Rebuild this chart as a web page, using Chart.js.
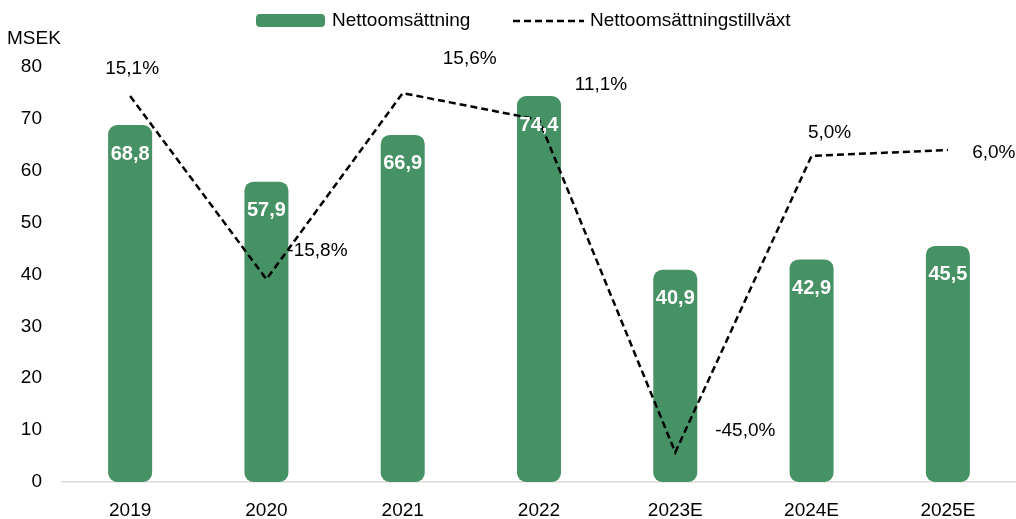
<!DOCTYPE html>
<html>
<head>
<meta charset="utf-8">
<script src="https://cdn.jsdelivr.net/npm/chart.js@4"></script>
<style>
  html, body { margin: 0; padding: 0; background: #fff; }
  #wrap { width: 1016px; height: 519px; position: relative; }
</style>
</head>
<body>
<div id="wrap"><canvas id="c" width="1016" height="519"></canvas></div>
<script>
// ---- Data ----
const categories = ['2019', '2020', '2021', '2022', '2023E', '2024E', '2025E'];
const revenue = [68.8, 57.9, 66.9, 74.4, 40.9, 42.9, 45.5];          // MSEK
const growth = [15.1, -15.8, 15.6, 11.1, -45.0, 5.0, 6.0];            // %
const yTicks = { min: 0, max: 80, step: 10 };
const seriesNames = ['Nettoomsättning', 'Nettoomsättningstillväxt'];
const unitLabel = 'MSEK';

// ---- Styles ----
const GREEN = '#469265';
const FONT = '"Liberation Sans", Arial, sans-serif';
const growthLabelOffsets = [[2, -27], [51, -28], [67, -34], [62, -35], [70, -22], [18, -23], [46, 3]];

const fmt = v => v.toFixed(1).replace('.', ',');

const labelPlugin = {
  id: 'labels',
  afterDatasetsDraw(chart) {
    const ctx = chart.ctx;
    ctx.save();
    // bar value labels
    const barMeta = chart.getDatasetMeta(0);
    ctx.font = 'bold 20px ' + FONT;
    ctx.fillStyle = '#ffffff';
    ctx.textAlign = 'center';
    ctx.textBaseline = 'middle';
    barMeta.data.forEach((el, i) => {
      ctx.fillText(fmt(revenue[i]), el.x, el.y + 29);
    });
    // growth labels
    const lineMeta = chart.getDatasetMeta(1);
    ctx.font = '19px ' + FONT;
    ctx.fillStyle = '#000000';
    lineMeta.data.forEach((el, i) => {
      const o = growthLabelOffsets[i];
      ctx.fillText(fmt(growth[i]) + '%', el.x + o[0], el.y + o[1]);
    });
    ctx.restore();
  },
  afterDraw(chart) {
    const ctx = chart.ctx;
    ctx.save();
    // unit label
    ctx.font = '19px ' + FONT;
    ctx.fillStyle = '#000';
    ctx.textAlign = 'left';
    ctx.textBaseline = 'middle';
    ctx.fillText(unitLabel, 7, 39);
    // legend
    ctx.fillStyle = GREEN;
    ctx.beginPath();
    ctx.roundRect(256, 14, 69, 13, 4);
    ctx.fill();
    ctx.fillStyle = '#000';
    ctx.fillText(seriesNames[0], 332, 21);
    ctx.strokeStyle = '#000';
    ctx.lineWidth = 2.5;
    ctx.setLineDash([7, 4]);
    ctx.beginPath();
    ctx.moveTo(513, 21);
    ctx.lineTo(584, 21);
    ctx.stroke();
    ctx.setLineDash([]);
    ctx.fillText(seriesNames[1], 590, 21);
    ctx.restore();
  }
};

new Chart(document.getElementById('c'), {
  data: {
    labels: categories,
    datasets: [
      {
        type: 'bar',
        label: seriesNames[0],
        data: revenue,
        backgroundColor: GREEN,
        borderRadius: 9,
        borderSkipped: false,
        barPercentage: 0.323,
        categoryPercentage: 1,
        yAxisID: 'y',
        order: 2
      },
      {
        type: 'line',
        label: seriesNames[1],
        data: growth,
        borderColor: '#000',
        borderWidth: 2.5,
        borderDash: [7, 4],
        pointRadius: 0,
        tension: 0,
        fill: false,
        yAxisID: 'y1',
        order: 1
      }
    ]
  },
  options: {
    responsive: false,
    animation: false,
    devicePixelRatio: 1,
    layout: { padding: { top: 67, left: 0, right: -2, bottom: 0 } },
    plugins: { legend: { display: false }, tooltip: { enabled: false } },
    scales: {
      x: {
        grid: { display: false },
        border: { display: true, color: '#d9d9d9', width: 1.5 },
        ticks: { font: { family: FONT, size: 19 }, color: '#000', padding: 9, maxRotation: 0 },
        afterFit(s) { s.height = 37; }
      },
      y: {
        min: yTicks.min, max: yTicks.max,
        grid: { display: false, drawTicks: false },
        border: { display: false },
        ticks: { stepSize: yTicks.step, font: { family: FONT, size: 19 }, color: '#000', padding: 20 },
        afterFit(s) { s.width = 62; }
      },
      y1: {
        display: false,
        min: -50, max: 20
      }
    }
  },
  plugins: [labelPlugin]
});
</script>
</body>
</html>
